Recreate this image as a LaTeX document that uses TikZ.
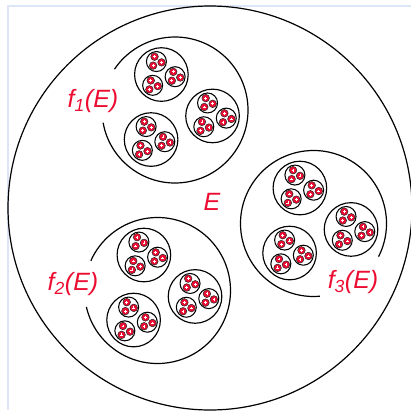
\documentclass[tikz,border=0pt]{standalone}
\usepackage{fontspec}
\setmainfont{Liberation Sans}
\definecolor{setred}{RGB}{236,14,50}
\definecolor{framebl}{RGB}{220,230,247}
\tikzset{
	lbl/.style={text=setred, inner sep=0pt, font=\fontsize{25}{30}\selectfont\itshape},
	lvlone/.style={line width=1.2pt},
	lvltwo/.style={line width=1.15pt},
	lvlthree/.style={line width=1.05pt},
	dot/.style={fill=setred, draw=black!85, line width=0.5pt}
}

\begin{document}
\begin{tikzpicture}[x=1pt,y=1pt]
	\useasboundingbox (0,0) rectangle (411,-410);
	% marco
	\draw[framebl, line width=2pt] (8,-410) -- (8,-6) -- (411,-6);
	% conjunto E
	\draw[lvlone] (210,-208) circle (202);
	% f_1(E), f_2(E), f_3(E) y sus copias
	\foreach \cx/\cy/\a/\b in {175/-110/190/506, 157.5/-290.5/193/516, 313.5/-223.5/333/635}{
		\draw[lvlone] (\cx,\cy) ++(\a:73) arc[start angle=\a, end angle=\b, radius=73];
		\begin{scope}[shift={(\cx,\cy)}]
			\foreach \i in {111,231,351}{
				\begin{scope}[shift={(\i:38)}]
					\draw[lvltwo] (0,0) circle (26.8);
					\foreach \j in {111,231,351}{
						\begin{scope}[shift={(\j:13.9)}]
							\draw[lvlthree] (0,0) circle (10);
							\foreach \k in {111,231,351}{
								\begin{scope}[shift={(\k:5.2)}]
									\draw[dot] (0,0) circle (3.8);
									\draw[white, line width=0.7pt] (-1.4,0) -- (1.4,0) (0,-1.4) -- (0,1.4);
								\end{scope}
							}
						\end{scope}
					}
				\end{scope}
			}
		\end{scope}
	}
	% etiquetas
	\node[lbl] (lblE) at (212,-201.5) {E};
	\node[lbl] (lblfone) at (93,-101) {f\textsubscript{1}(E)};
	\node[lbl] (lblftwo) at (73,-284) {f\textsubscript{2}(E)};
	\node[lbl] (lblfthree) at (353,-282) {f\textsubscript{3}(E)};
\end{tikzpicture}
\end{document}
